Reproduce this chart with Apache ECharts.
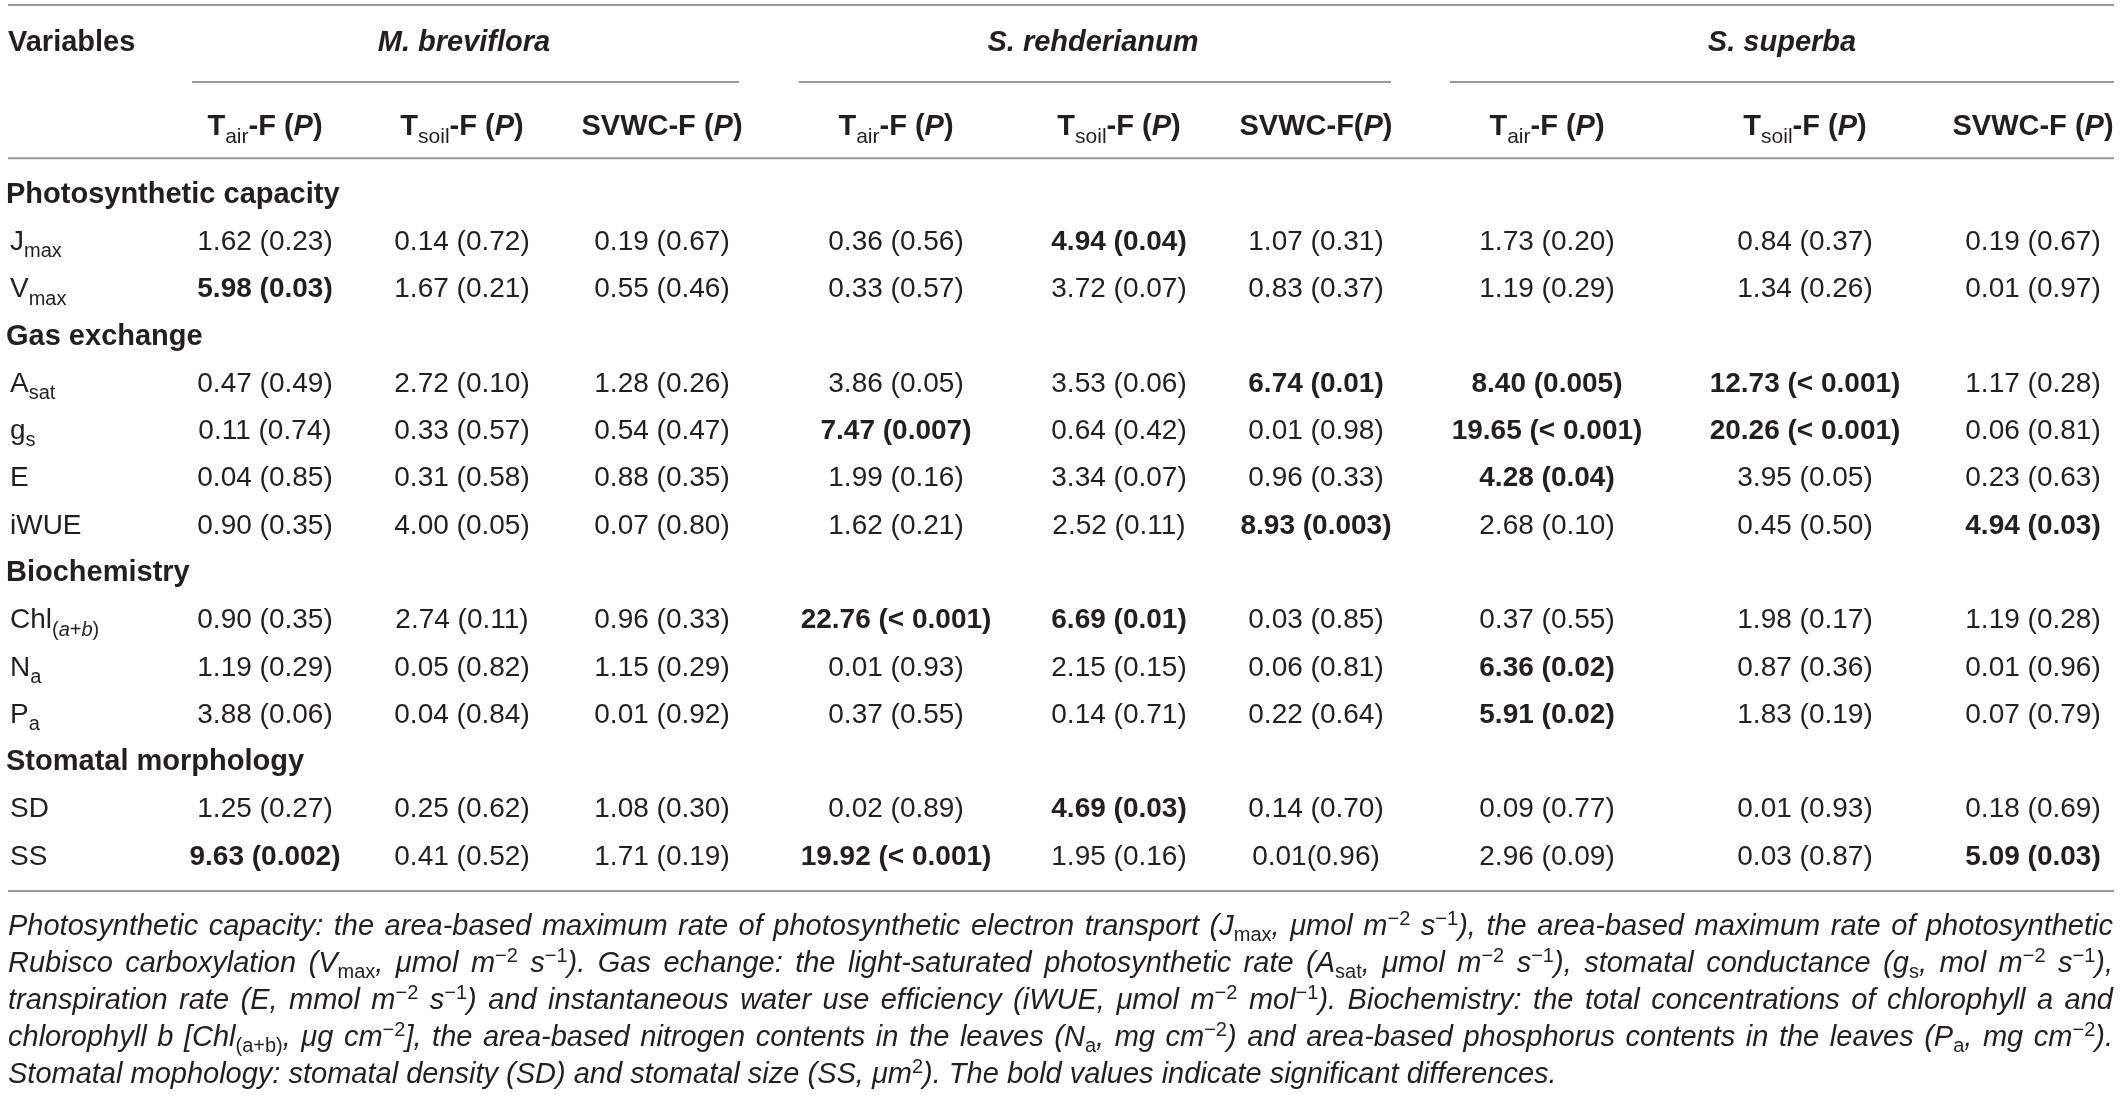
<!DOCTYPE html>
<html>
<head>
<meta charset="utf-8">
<script src="https://cdn.jsdelivr.net/npm/echarts@6/dist/echarts.min.js"></script>
<style>
html, body { margin: 0; padding: 0; background: #fff; }
#main { width: 2122px; height: 1096px; }
</style>
</head>
<body>
<div id="main"></div>
<script>
// markup: _{..} subscript, ^{..} superscript, *..* italic
var stubTitle = 'Variables';
var groups = ['M. breviflora', 'S. rehderianum', 'S. superba'];
var colHeads = ['T_{air}-F (*P*)', 'T_{soil}-F (*P*)', 'SVWC-F (*P*)',
  'T_{air}-F (*P*)', 'T_{soil}-F (*P*)', 'SVWC-F(*P*)',
  'T_{air}-F (*P*)', 'T_{soil}-F (*P*)', 'SVWC-F (*P*)'];
var sections = ['Photosynthetic capacity', 'Gas exchange', 'Biochemistry', 'Stomatal morphology'];
var variables = ['J_{max}', 'V_{max}', 'A_{sat}', 'g_{s}', 'E', 'iWUE', 'Chl_{(*a*+*b*)}', 'N_{a}', 'P_{a}', 'SD', 'SS'];
var sectionOf = [0, 0, 1, 1, 1, 1, 2, 2, 2, 3, 3];

var jmax = ['1.62 (0.23)', '0.14 (0.72)', '0.19 (0.67)', '0.36 (0.56)', '4.94 (0.04)', '1.07 (0.31)', '1.73 (0.20)', '0.84 (0.37)', '0.19 (0.67)'];
var vmax = ['5.98 (0.03)', '1.67 (0.21)', '0.55 (0.46)', '0.33 (0.57)', '3.72 (0.07)', '0.83 (0.37)', '1.19 (0.29)', '1.34 (0.26)', '0.01 (0.97)'];
var asat = ['0.47 (0.49)', '2.72 (0.10)', '1.28 (0.26)', '3.86 (0.05)', '3.53 (0.06)', '6.74 (0.01)', '8.40 (0.005)', '12.73 (< 0.001)', '1.17 (0.28)'];
var gs = ['0.11 (0.74)', '0.33 (0.57)', '0.54 (0.47)', '7.47 (0.007)', '0.64 (0.42)', '0.01 (0.98)', '19.65 (< 0.001)', '20.26 (< 0.001)', '0.06 (0.81)'];
var transp = ['0.04 (0.85)', '0.31 (0.58)', '0.88 (0.35)', '1.99 (0.16)', '3.34 (0.07)', '0.96 (0.33)', '4.28 (0.04)', '3.95 (0.05)', '0.23 (0.63)'];
var iwue = ['0.90 (0.35)', '4.00 (0.05)', '0.07 (0.80)', '1.62 (0.21)', '2.52 (0.11)', '8.93 (0.003)', '2.68 (0.10)', '0.45 (0.50)', '4.94 (0.03)'];
var chl = ['0.90 (0.35)', '2.74 (0.11)', '0.96 (0.33)', '22.76 (< 0.001)', '6.69 (0.01)', '0.03 (0.85)', '0.37 (0.55)', '1.98 (0.17)', '1.19 (0.28)'];
var na = ['1.19 (0.29)', '0.05 (0.82)', '1.15 (0.29)', '0.01 (0.93)', '2.15 (0.15)', '0.06 (0.81)', '6.36 (0.02)', '0.87 (0.36)', '0.01 (0.96)'];
var pa = ['3.88 (0.06)', '0.04 (0.84)', '0.01 (0.92)', '0.37 (0.55)', '0.14 (0.71)', '0.22 (0.64)', '5.91 (0.02)', '1.83 (0.19)', '0.07 (0.79)'];
var sd = ['1.25 (0.27)', '0.25 (0.62)', '1.08 (0.30)', '0.02 (0.89)', '4.69 (0.03)', '0.14 (0.70)', '0.09 (0.77)', '0.01 (0.93)', '0.18 (0.69)'];
var ss = ['9.63 (0.002)', '0.41 (0.52)', '1.71 (0.19)', '19.92 (< 0.001)', '1.95 (0.16)', '0.01(0.96)', '2.96 (0.09)', '0.03 (0.87)', '5.09 (0.03)'];
var values = [jmax, vmax, asat, gs, transp, iwue, chl, na, pa, sd, ss];

var notes = [
  'Photosynthetic capacity: the area-based maximum rate of photosynthetic electron transport (J_{max}, μmol m^{−2} s^{−1}), the area-based maximum rate of photosynthetic',
  'Rubisco carboxylation (V_{max}, μmol m^{−2} s^{−1}). Gas echange: the light-saturated photosynthetic rate (A_{sat}, μmol m^{−2} s^{−1}), stomatal conductance (g_{s}, mol m^{−2} s^{−1}),',
  'transpiration rate (E, mmol m^{−2} s^{−1}) and instantaneous water use efficiency (iWUE, μmol m^{−2} mol^{−1}). Biochemistry: the total concentrations of chlorophyll a and',
  'chlorophyll b [Chl_{(a+b)}, μg cm^{−2}], the area-based nitrogen contents in the leaves (N_{a}, mg cm^{−2}) and area-based phosphorus contents in the leaves (P_{a}, mg cm^{−2}).',
  'Stomatal mophology: stomatal density (SD) and stomatal size (SS, μm^{2}). The bold values indicate significant differences.'
];

// layout (pixels across, row units down)
var FONT = '"Liberation Sans", Arial, Helvetica, sans-serif';
var INK = '#231f20';
var RULE = '#9a9a9a';
var LEFT = 8, RIGHT = 2114;
var colX = [265, 462, 662, 896, 1119, 1316, 1547, 1805, 2033];
var groupX = [464, 1093, 1782];
var groupSpan = [[192, 739], [799, 1391], [1450, 2114]];
var yTopRule = -4.02, yGroup = -3.21, yGroupRule = -2.39, ySub = -1.44, yHeadRule = -0.78, yBottomRule = 14.72;
var yNote = 15.48, noteStep = 0.7825;

function parse(str) {
  var segs = [], cur = '', mode = '', it = false;
  function flush() { if (cur) { segs.push({ t: cur, m: mode, it: it }); cur = ''; } }
  for (var i = 0; i < str.length; i++) {
    var c = str[i];
    if ((c === '_' || c === '^') && str[i + 1] === '{') { flush(); mode = c === '_' ? 'sb' : 'sp'; i++; continue; }
    if (c === '}' && mode) { flush(); mode = ''; continue; }
    if (c === '*') { flush(); it = !it; continue; }
    cur += c;
  }
  flush();
  return segs;
}
function styleName(s) { return (s.m || 'n') + (s.it ? 'I' : ''); }
function toRich(segs) {
  return segs.map(function (s) { return '{' + styleName(s) + '|' + s.t + '}'; }).join('');
}

function richFor(size, weight, italic, subSize, lineScale) {
  var lh = Math.round(size * (lineScale || 1.4));
  var slh = Math.round(subSize * 1.1);
  function st(o) { o.fontFamily = FONT; o.fill = INK; return o; }
  return {
    n: st({ fontSize: size, fontWeight: weight, fontStyle: italic ? 'italic' : 'normal', lineHeight: lh }),
    nI: st({ fontSize: size, fontWeight: weight, fontStyle: 'italic', lineHeight: lh }),
    sb: st({ fontSize: subSize, fontWeight: 'normal', fontStyle: 'normal', lineHeight: slh, verticalAlign: 'bottom' }),
    sbI: st({ fontSize: subSize, fontWeight: 'normal', fontStyle: 'italic', lineHeight: slh, verticalAlign: 'bottom' }),
    sp: st({ fontSize: subSize, fontWeight: 'normal', fontStyle: 'normal', lineHeight: slh, verticalAlign: 'top' }),
    spI: st({ fontSize: subSize, fontWeight: 'normal', fontStyle: 'italic', lineHeight: slh, verticalAlign: 'top' })
  };
}

var richHead = richFor(29, 'bold', false, 21);
var richGroup = richFor(29, 'bold', true, 21);
var richVar = richFor(28, 'normal', false, 20);
var richVal = richFor(28, 'normal', false, 20);
var richValB = richFor(28, 'bold', false, 20);

function significant(s) {
  var p = s.match(/\(([^)]*)\)/)[1].replace(/\s/g, '');
  return p.charAt(0) === '<' || parseFloat(p) < 0.05;
}

// build cells
var cells = [];
cells.push({ x: LEFT, y: yGroup, text: toRich(parse(stubTitle)), rich: richHead, align: 'left' });
groups.forEach(function (g, i) {
  cells.push({ x: groupX[i], y: yGroup, text: toRich(parse(g)), rich: richGroup, align: 'center' });
});
colHeads.forEach(function (h, j) {
  cells.push({ x: colX[j], y: ySub, text: toRich(parse(h)), rich: richHead, align: 'center' });
});
var row = 0;
sections.forEach(function (sec, s) {
  cells.push({ x: LEFT - 2, y: row, text: toRich(parse(sec)), rich: richHead, align: 'left' });
  row++;
  variables.forEach(function (v, k) {
    if (sectionOf[k] !== s) return;
    cells.push({ x: LEFT + 2, y: row, text: toRich(parse(v)), rich: richVar, align: 'left' });
    values[k].forEach(function (val, j) {
      cells.push({ x: colX[j], y: row, text: '{n|' + val + '}', rich: significant(val) ? richValB : richVal, align: 'center' });
    });
    row++;
  });
});

// footnote lines, justified except the last
var NOTE_SIZE = 29;
var measureCtx = document.createElement('canvas').getContext('2d');
function fontOf(st) { return [st.fontStyle || 'normal', st.fontWeight || 'normal', st.fontSize + 'px', st.fontFamily].join(' '); }
notes.forEach(function (line, i) {
  var rich = richFor(NOTE_SIZE, 'normal', true, 20, 1.25);
  var segs = parse(line);
  var last = i === notes.length - 1;
  var pieces = [];
  segs.forEach(function (s) {
    if (s.m) { pieces.push({ t: s.t, st: styleName(s) }); return; }
    s.t.split(/( )/).forEach(function (p) {
      if (p === '') return;
      pieces.push({ t: p, st: p === ' ' ? 'g' : styleName(s) });
    });
  });
  var used = 0, gaps = 0;
  pieces.forEach(function (p) {
    if (p.st === 'g') { gaps++; return; }
    measureCtx.font = fontOf(rich[p.st]);
    used += measureCtx.measureText(p.t).width;
  });
  measureCtx.font = fontOf(rich.n);
  var spaceW = measureCtx.measureText(' ').width;
  var gapW = last ? spaceW : Math.max(spaceW * 0.6, (RIGHT - 1 - LEFT - used) / gaps);
  rich.g = { fontSize: NOTE_SIZE, fontFamily: FONT, fontStyle: 'italic', lineHeight: rich.n.lineHeight, width: gapW, fill: INK };
  cells.push({
    x: LEFT, y: yNote + i * noteStep,
    text: pieces.map(function (p) { return '{' + p.st + '|' + p.t + '}'; }).join(''),
    rich: rich, align: 'left'
  });
});

var rules = [[LEFT, RIGHT, yTopRule], [LEFT, RIGHT, yHeadRule], [LEFT, RIGHT, yBottomRule]];
groupSpan.forEach(function (g) { rules.push([g[0], g[1], yGroupRule]); });

var chart = echarts.init(document.getElementById('main'));
chart.setOption({
  backgroundColor: '#fff',
  animation: false,
  grid: { left: 0, right: 0, top: 0, bottom: 0 },
  xAxis: { type: 'value', min: 0, max: 2122, show: false },
  yAxis: { type: 'value', inverse: true, min: -4.124, max: 19.054, show: false },
  series: [
    {
      type: 'custom',
      name: 'rules',
      silent: true,
      data: rules,
      renderItem: function (params, api) {
        var a = api.coord([api.value(0), api.value(2)]);
        var b = api.coord([api.value(1), api.value(2)]);
        return {
          type: 'line',
          shape: { x1: a[0], y1: a[1], x2: b[0], y2: b[1] },
          style: { stroke: RULE, lineWidth: 2 }
        };
      }
    },
    {
      type: 'custom',
      name: 'cells',
      silent: true,
      data: cells.map(function (c) { return [c.x, c.y]; }),
      renderItem: function (params, api) {
        var c = cells[params.dataIndex];
        var p = api.coord([api.value(0), api.value(1)]);
        return {
          type: 'text',
          x: p[0],
          y: p[1],
          style: {
            text: c.text,
            rich: c.rich,
            fill: INK,
            align: c.align,
            verticalAlign: 'middle'
          }
        };
      }
    }
  ]
});
</script>
</body>
</html>
